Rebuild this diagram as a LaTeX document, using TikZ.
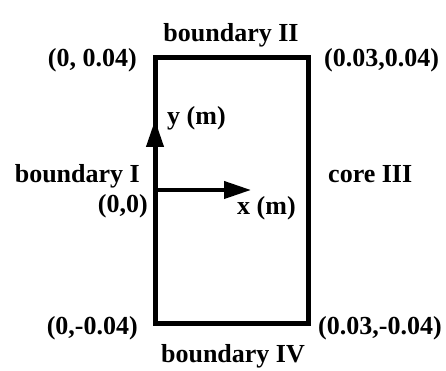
\documentclass[tikz,border=0pt]{standalone}
\usepackage{fontspec}
\setmainfont{Liberation Serif}
\usepackage{tikz}
\usetikzlibrary{arrows.meta,positioning}

\tikzset{
  lbl/.style={inner sep=0pt, font=\bfseries\fontsize{26}{31}\selectfont},
  axis/.style={line width=4pt, -{Triangle[length=27pt,width=17pt]}}
}

\begin{document}
\begin{tikzpicture}[x=1pt, y=1pt]
\useasboundingbox (0,0) rectangle (446,371);

\coordinate (sw) at (155,47);
\coordinate (ne) at (308,313);
\coordinate (orig) at (155,181);
\coordinate (xend) at (251,181);
\coordinate (yend) at (155,251);

\draw[line width=5pt] (sw) rectangle (ne);

\draw[axis] (orig) -- (xend);
\draw[axis] (orig) -- (yend);

\node[lbl, anchor=base] (bII) at (231,329) {boundary II};
\node[lbl, anchor=base east] (tl) at (137,304) {(0, 0.04)};
\node[lbl, anchor=base west] (tr) at (324,304) {(0.03,0.04)};
\node[lbl, anchor=base west] (ylab) at (167,246) {y (m)};
\node[lbl, anchor=base east] (bI) at (140,188) {boundary I};
\node[lbl, anchor=base west] (cIII) at (328,188) {core III};
\node[lbl, anchor=base east] (olab) at (148,158) {(0,0)};
\node[lbl, anchor=base west] (xlab) at (237,156) {x (m)};
\node[lbl, anchor=base east] (bl) at (138,36) {(0,-0.04)};
\node[lbl, anchor=base west] (br) at (318,36) {(0.03,-0.04)};
\node[lbl, anchor=base] (bIV) at (233,8) {boundary IV};

\end{tikzpicture}
\end{document}
